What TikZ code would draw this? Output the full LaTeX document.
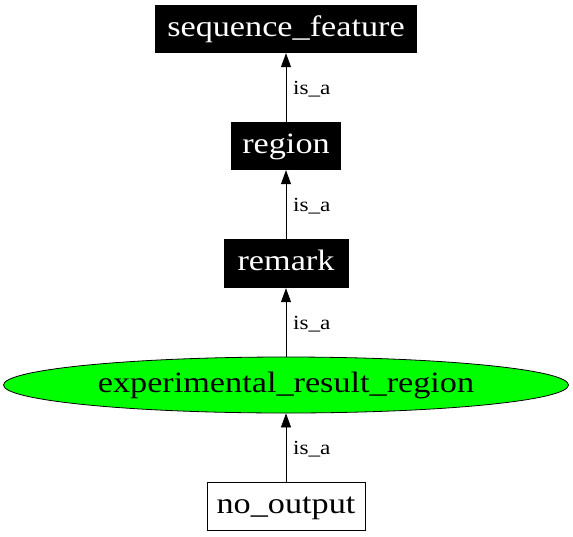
\documentclass[tikz,border=0pt]{standalone}
\usepackage{fontspec}
\setmainfont[FakeStretch=1.16]{Liberation Serif}
\usetikzlibrary{shapes.geometric,arrows.meta}
\begin{document}
\begin{tikzpicture}[x=1pt,y=-1pt,
  nodefont/.style={font=\fontsize{29.5}{34}\selectfont,text height=20pt,text depth=6pt},
  blackbox/.style={rectangle,fill=black,text=white,inner sep=0pt,nodefont},
  whitebox/.style={rectangle,draw=black,line width=0.8pt,fill=white,inner sep=0pt,nodefont},
  greenell/.style={ellipse,draw=black,line width=0.8pt,fill=green,inner sep=0pt,nodefont},
  isa/.style={-{Triangle[length=14pt,width=10pt]},line width=0.8pt},
  lbl/.style={font=\fontsize{20}{24}\selectfont,anchor=base west,inner sep=0pt,xshift=6.7pt,yshift=-7pt}]
\useasboundingbox (0,0) rectangle (573,536);
\node[blackbox,minimum width=262pt,minimum height=48pt] (sf) at (286,29) {sequence\_feature};
\node[blackbox,minimum width=110pt,minimum height=48pt] (rg) at (286,146) {region};
\node[blackbox,minimum width=125pt,minimum height=49pt] (rm) at (286,263.5) {remark};
\node[greenell,minimum width=565pt,minimum height=56pt] (er) at (286,385) {experimental\_result\_region};
\node[whitebox,minimum width=158pt,minimum height=48pt] (no) at (286,506.3) {no\_output};
\draw[isa] (rg.north) -- (sf.south) node[lbl,midway] {is\_a};
\draw[isa] (rm.north) -- (rg.south) node[lbl,midway] {is\_a};
\draw[isa] (er.north) -- (rm.south) node[lbl,midway] {is\_a};
\draw[isa] (no.north) -- (er.south) node[lbl,midway] {is\_a};
\end{tikzpicture}
\end{document}
